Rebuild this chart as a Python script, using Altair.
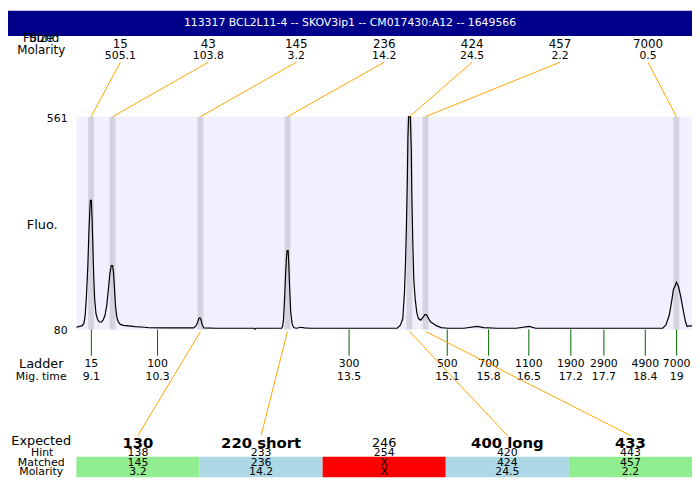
import altair as alt
import numpy as np
import pandas as pd

# ---------------- layout (chart is 692x472 so it fits beside the 8px page margin)
W, H = 692, 472
SX, SY = W / 700, H / 480
def rx(x): return x * SX
def ry(y): return y * SY
FONT = "DejaVu Sans"

# ---------------- data
TITLE = "113317  BCL2L11-4 -- SKOV3ip1 -- CM017430:A12 -- 1649566"

X_DOMAIN = [8.847, 19.26]   # migration time (min) shown in the plot
Y_DOMAIN = [80, 561]        # fluorescence

trace_time = [8.847, 8.902, 8.946, 8.974, 8.996, 9.017, 9.040, 9.057, 9.074, 9.083,
              9.100, 9.112, 9.123, 9.140, 9.156, 9.178, 9.206, 9.232, 9.265, 9.298,
              9.331, 9.360, 9.388, 9.414, 9.437, 9.459, 9.475, 9.492, 9.508, 9.530,
              9.553, 9.591, 9.645, 9.728, 9.839, 10.004, 10.059, 10.335, 10.831, 10.869,
              10.897, 10.918, 10.935, 10.951, 10.974, 11.001, 11.211, 11.850, 11.867, 11.888,
              12.318, 12.335, 12.351, 12.368, 12.384, 12.401, 12.412, 12.429, 12.439, 12.455,
              12.472, 12.495, 12.521, 12.566, 12.649, 12.703, 12.814, 14.274, 14.330, 14.368,
              14.396, 14.412, 14.429, 14.445, 14.455, 14.467, 14.495, 14.512, 14.521, 14.538,
              14.554, 14.578, 14.604, 14.632, 14.670, 14.703, 14.743, 14.769, 14.797, 14.836,
              14.880, 14.935, 15.017, 15.128, 15.404, 15.624, 15.735, 15.955, 16.285, 16.505,
              16.616, 18.765, 18.819, 18.875, 18.913, 18.946, 18.974, 18.996, 19.029, 19.067,
              19.107, 19.150, 19.178, 19.216, 19.260]
trace_fluo = [85.1, 87.2, 88.8, 93.8, 112.3, 156.2, 222.1, 295.2, 350.1, 372.1,
              372.1, 331.9, 280.5, 200.2, 148.7, 115.8, 102.6, 97.6, 96.9, 101.3,
              112.3, 134.2, 170.7, 207.4, 224.3, 224.3, 207.4, 170.7, 134.2, 108.5,
              97.6, 91.6, 89.4, 88.1, 86.6, 85.1, 84.4, 83.7, 83.7, 88.1,
              96.0, 104.8, 106.4, 103.5, 91.6, 83.7, 82.9, 82.9, 80.7, 82.9,
              82.9, 86.6, 104.8, 148.7, 200.1, 244.0, 258.5, 258.5, 229.3, 170.7,
              119.5, 93.8, 84.4, 82.9, 85.1, 83.7, 82.9, 82.9, 90.3, 104.8,
              163.4, 222.1, 309.9, 419.7, 514.8, 561, 561, 485.6, 383.0, 273.2,
              192.7, 148.7, 119.5, 104.8, 101.3, 106.4, 113.6, 113.6, 106.4, 97.6,
              93.8, 88.8, 84.4, 82.9, 82.9, 87.2, 84.4, 82.9, 82.9, 87.2,
              82.9, 82.9, 90.3, 112.3, 141.5, 170.7, 178.2, 186.9, 178.2, 156.2,
              126.8, 97.6, 86.6, 88.1, 88.1]

found_size = [15, 43, 145, 236, 424, 457, 7000]
found_molarity = ["505.1", "103.8", "3.2", "14.2", "24.5", "2.2", "0.5"]
found_time = [9.095, 9.459, 10.946, 12.417, 14.481, 14.752, 18.996]

ladder_size = [15, 100, 300, 500, 700, 1100, 1900, 2900, 4900, 7000]
ladder_time = [9.10, 10.22, 13.46, 15.12, 15.82, 16.50, 17.21, 17.77, 18.47, 19.00]
ladder_time_label = ["9.1", "10.3", "13.5", "15.1", "15.8", "16.5", "17.2", "17.7", "18.4", "19"]

expected_label = ["130", "220 short", "246", "400 long", "433"]
hint_size = ["138", "233", "254", "420", "443"]
matched_size = ["145", "236", "X", "424", "457"]
matched_molarity = ["3.2", "14.2", "X", "24.5", "2.2"]
matched_time = [10.946, 12.417, None, 14.481, 14.752]
status = ["matched", "matched isoform", "not found", "matched isoform", "matched"]

# ---------------- frames
X0, X1 = X_DOMAIN
span = X1 - X0
BAND_HALF = 0.05

found_df = pd.DataFrame({"size": found_size, "molarity": found_molarity, "peak_t": found_time})
nf = len(found_df)
found_df["slot_t"] = X0 + (np.arange(nf) + 0.5) * span / nf
found_df["band_lo"] = found_df["peak_t"] - BAND_HALF
found_df["band_hi"] = found_df["peak_t"] + BAND_HALF
found_df["f0"] = Y_DOMAIN[0]
found_df["f1"] = Y_DOMAIN[1]

trace_df = pd.DataFrame({"t": trace_time, "f": trace_fluo})
ladder_df = pd.DataFrame({"size": ladder_size, "t": ladder_time, "tlabel": ladder_time_label})

exp_df = pd.DataFrame({"expected": expected_label, "hint": hint_size, "matched": matched_size,
                       "molarity": matched_molarity, "peak_t": matched_time, "status": status})
ne = len(exp_df)
exp_df["slot_lo"] = X0 + np.arange(ne) * span / ne
exp_df["slot_hi"] = X0 + (np.arange(ne) + 1) * span / ne
exp_df["slot_t"] = X0 + (np.arange(ne) + 0.5) * span / ne
conn_df = exp_df.dropna(subset=["peak_t"])

bg_df = pd.DataFrame({"t0": [X0], "t1": [X1], "f0": [Y_DOMAIN[0]], "f1": [Y_DOMAIN[1]]})
yl_df = pd.DataFrame({"v": Y_DOMAIN})

xs = alt.Scale(domain=X_DOMAIN, range=[rx(70), rx(700)])
ys = alt.Scale(domain=Y_DOMAIN, range=[ry(328), ry(109)])

def label(text, x, y, size, **kw):
    return alt.Chart(pd.DataFrame({"label": [text]})).mark_text(
        font=FONT, fontSize=size, baseline="middle", **kw
    ).encode(x=alt.value(x), y=alt.value(y), text="label:N")

layers = []

# title bar
layers.append(alt.Chart(pd.DataFrame({"title": [TITLE]})).mark_rect(color="#00008B").encode(
    x=alt.value(0), x2=alt.value(W), y=alt.value(0), y2=alt.value(ry(26))))
layers.append(alt.Chart(pd.DataFrame({"title": [TITLE]})).mark_text(
    font=FONT, fontSize=11, color="white", baseline="middle").encode(
    x=alt.value(W / 2), y=alt.value(ry(13)), text="title:N"))

# plot background + peak bands
layers.append(alt.Chart(bg_df).mark_rect(color="#F0F0FF").encode(
    x=alt.X("t0:Q", scale=xs, axis=None), x2="t1:Q",
    y=alt.Y("f0:Q", scale=ys, axis=None), y2="f1:Q"))
layers.append(alt.Chart(found_df).mark_rect(color="#D4D4E0").encode(
    x=alt.X("band_lo:Q", scale=xs, axis=None), x2="band_hi:Q",
    y=alt.Y("f0:Q", scale=ys, axis=None), y2="f1:Q"))

# trace
layers.append(alt.Chart(trace_df).mark_line(color="black", strokeWidth=1.2).encode(
    x=alt.X("t:Q", scale=xs, axis=None), y=alt.Y("f:Q", scale=ys, axis=None)))

# y labels
layers.append(alt.Chart(yl_df).mark_text(font=FONT, fontSize=11, align="right", baseline="middle", dy=2).encode(
    x=alt.value(rx(61)), y=alt.Y("v:Q", scale=ys, axis=None), text="v:Q"))

# left row labels
layers.append(label("Size", rx(34), ry(28), 12))
layers.append(label("Found", rx(34), ry(28), 12))
layers.append(label("Molarity", rx(34), ry(40), 12))
layers.append(label("Fluo.", rx(35), ry(220), 13))
layers.append(label("Ladder", rx(34), ry(363), 13))
layers.append(label("Mig. time", rx(34), ry(377), 11))
layers.append(label("Expected", rx(34), ry(443), 13))
layers.append(label("Hint", rx(35), ry(455), 11))
layers.append(label("Matched", rx(34), ry(465), 11))
layers.append(label("Molarity", rx(34), ry(475), 11))

# found peaks: labels and connectors
layers.append(alt.Chart(found_df).mark_rule(color="orange", strokeWidth=1).encode(
    x=alt.X("slot_t:Q", scale=xs, axis=None), x2="peak_t:Q",
    y=alt.value(ry(53)), y2=alt.value(ry(109))))
layers.append(alt.Chart(found_df).mark_text(font=FONT, fontSize=12, baseline="middle").encode(
    x=alt.X("slot_t:Q", scale=xs, axis=None), y=alt.value(ry(34)), text="size:N"))
layers.append(alt.Chart(found_df).mark_text(font=FONT, fontSize=11, baseline="middle").encode(
    x=alt.X("slot_t:Q", scale=xs, axis=None), y=alt.value(ry(46.5)), text="molarity:N"))

# ladder
layers.append(alt.Chart(ladder_df).mark_rule(color="#006400", strokeWidth=1).encode(
    x=alt.X("t:Q", scale=xs, axis=None), y=alt.value(ry(328)), y2=alt.value(ry(355))))
layers.append(alt.Chart(ladder_df).mark_text(font=FONT, fontSize=11, baseline="middle").encode(
    x=alt.X("t:Q", scale=xs, axis=None), y=alt.value(ry(363)), text="size:N"))
layers.append(alt.Chart(ladder_df).mark_text(font=FONT, fontSize=11, baseline="middle").encode(
    x=alt.X("t:Q", scale=xs, axis=None), y=alt.value(ry(377)), text="tlabel:N"))

# expected table
layers.append(alt.Chart(conn_df).mark_rule(color="orange", strokeWidth=1).encode(
    x=alt.X("peak_t:Q", scale=xs, axis=None), x2="slot_t:Q",
    y=alt.value(ry(330)), y2=alt.value(ry(437))))
layers.append(alt.Chart(exp_df).mark_rect().encode(
    x=alt.X("slot_lo:Q", scale=xs, axis=None), x2="slot_hi:Q",
    y=alt.value(ry(459)), y2=alt.value(H),
    color=alt.Color("status:N", legend=None,
                    scale=alt.Scale(domain=["matched", "matched isoform", "not found"],
                                    range=["#90EE90", "#ADD8E6", "#FF0000"]))))
layers.append(alt.Chart(exp_df).transform_filter("datum.status != 'not found'").mark_text(
    font=FONT, fontSize=15, fontWeight="bold", baseline="middle").encode(
    x=alt.X("slot_t:Q", scale=xs, axis=None), y=alt.value(ry(444.5)), text="expected:N"))
layers.append(alt.Chart(exp_df).transform_filter("datum.status == 'not found'").mark_text(
    font=FONT, fontSize=13, baseline="middle").encode(
    x=alt.X("slot_t:Q", scale=xs, axis=None), y=alt.value(ry(444.5)), text="expected:N"))
for field, yy in [("hint", 455), ("matched", 465), ("molarity", 475)]:
    layers.append(alt.Chart(exp_df).mark_text(font=FONT, fontSize=11, baseline="middle").encode(
        x=alt.X("slot_t:Q", scale=xs, axis=None), y=alt.value(ry(yy)), text=f"{field}:N"))

chart = alt.layer(*layers).properties(
    width=W, height=H, autosize=alt.AutoSizeParams(type="none"), padding=0, background="white"
).configure_view(stroke=None)

chart.save("out.html", embed_options={"renderer": "svg", "actions": False})
